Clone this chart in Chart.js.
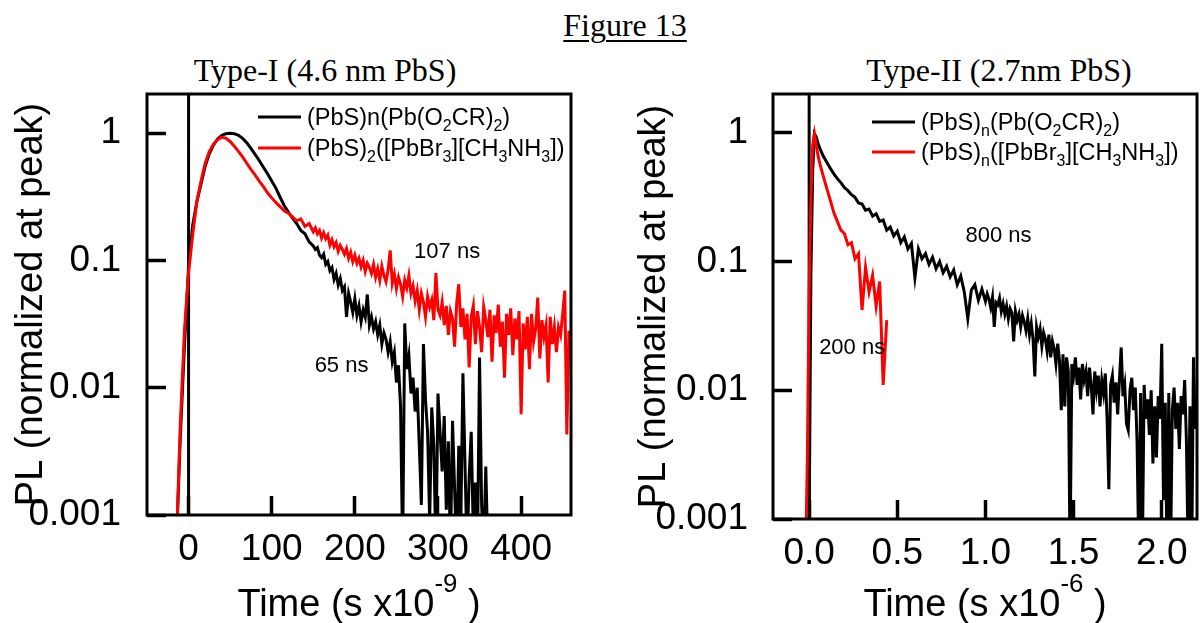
<!DOCTYPE html>
<html>
<head>
<meta charset="utf-8">
<script src="https://cdn.jsdelivr.net/npm/chart.js@4.4.0/dist/chart.umd.min.js"></script>
<style>
html,body{margin:0;padding:0;background:#fff;width:1201px;height:623px;overflow:hidden;position:relative}
.t{position:absolute;font-family:"Liberation Serif","Times New Roman",serif;font-size:32px;color:#000;white-space:nowrap;line-height:1;transform:translateX(-50%)}
#c1{position:absolute;left:0;top:0}
#c2{position:absolute;left:600px;top:0}
</style>
</head>
<body>
<div class="t" style="left:625px;top:9px;text-decoration:underline;text-decoration-thickness:2px;text-underline-offset:4px">Figure 13</div>
<div class="t" style="left:325px;top:54px">Type-I (4.6 nm PbS)</div>
<div class="t" style="left:999px;top:54px">Type-II (2.7nm PbS)</div>
<canvas id="c1" width="600" height="623"></canvas>
<canvas id="c2" width="601" height="623"></canvas>
<script>
// ---------- data: left panel (Type-I), time in ns ----------
const timeLeft = [-15,-10,-5,0,5,10,15,20,25,30,35,40,45,50,55,60,65,70,75,80,85,90,95,100,
  105,110,115,120,125,130,135,140,145,
  150,152.5,155,157.5,160,162.5,165,167.5,
  170,172.5,175,177.5,180,182.5,185,187.5,
  190,192.5,195,197.5,200,202.5,205,207.5,
  210,212.5,215,217.5,220,222.5,225,227.5,
  230,232.5,235,237.5,240,242.5,245,247.5,
  250,252.5,255,257.5,260,262.5,265,267.5,
  270,272.5,275,277.5,280,282.5,285,287.5,
  290,292.5,295,297.5,300,302.5,305,307.5,
  310,312.5,315,317.5,320,322.5,325,327.5,
  330,332.5,335,337.5,340,342.5,345,347.5,
  350,352.5,355,357.5,360,362.5,365,367.5,
  370,372.5,375,377.5,380,382.5,385,387.5,
  390,392.5,395,397.5,400,402.5,405,407.5,
  410,412.5,415,417.5,420,422.5,425,427.5,
  430,432.5,435,437.5,440,442.5,445,447.5,
  450,452.5,455,457.5,460];
const blackLeft = [0.0005,0.004,0.021,0.09,0.19,0.29,0.40,0.55,0.69,0.81,0.90,0.96,0.99,1.0,0.99,0.96,0.91,0.84,0.76,0.68,0.61,0.54,0.48,0.42,
  0.37,0.315,0.27,0.24,0.215,0.195,0.172,0.162,0.14,
  0.13,0.122,0.126,0.11,0.105,0.112,0.093,0.098,
  0.083,0.088,0.071,0.079,0.064,0.072,0.058,0.062,
  0.036,0.055,0.047,0.039,0.05,0.037,0.044,0.033,
  0.041,0.036,0.054,0.031,0.036,0.029,0.033,0.026,
  0.031,0.022,0.027,0.024,0.019,0.023,0.016,0.019,
  0.011,0.015,0.007,0.0005,0.032,0.014,0.018,0.009,
  0.012,0.0065,0.01,0.0035,0.0012,0.022,0.008,0.0045,
  0.0009,0.007,0.0035,0.0005,0.009,0.0045,0.0022,0.006,
  0.0011,0.0038,0.0005,0.0055,0.0016,0.0005,0.0035,0.0009,
  0.013,0.0025,0.0005,0.002,0.0045,0.0007,0.0018,0.0005,
  0.0173,0.0012,0.0005,0.0024,0.0005];
const redLeft = [0.0005,0.005,0.028,0.08,0.16,0.29,0.42,0.58,0.72,0.82,0.89,0.93,0.91,0.86,0.79,0.72,0.65,0.58,0.52,0.47,0.42,0.38,0.34,0.31,
  0.285,0.265,0.245,0.235,0.22,0.205,0.212,0.185,0.195,
  0.168,0.18,0.162,0.172,0.15,0.165,0.148,0.158,
  0.132,0.145,0.128,0.138,0.118,0.131,0.122,0.112,
  0.124,0.104,0.116,0.098,0.11,0.095,0.104,0.089,
  0.1,0.082,0.095,0.088,0.079,0.093,0.074,0.086,
  0.07,0.09,0.076,0.068,0.084,0.12,0.066,0.078,
  0.06,0.074,0.065,0.052,0.07,0.061,0.076,0.055,
  0.063,0.048,0.058,0.041,0.055,0.047,0.036,0.052,
  0.043,0.049,0.034,0.0795,0.041,0.037,0.047,0.031,
  0.044,0.026,0.04,0.035,0.021,0.046,0.065,0.03,
  0.042,0.024,0.038,0.0144,0.036,0.044,0.022,0.04,
  0.03,0.019,0.043,0.034,0.025,0.041,0.016,0.037,
  0.027,0.045,0.021,0.033,0.012,0.038,0.026,0.042,
  0.018,0.035,0.024,0.04,0.0062,0.032,0.02,0.036,
  0.014,0.038,0.023,0.029,0.051,0.017,0.034,0.025,
  0.031,0.011,0.036,0.022,0.03,0.019,0.0299,0.026,
  0.038,0.058,0.0043,0.028,0.02];

// ---------- data: right panel (Type-II), time in us ----------
const timeRight = [-0.02,-0.01,0,0.01,0.02,0.03,0.04,0.05,
  0.06,0.08,0.10,0.12,0.14,0.16,0.18,0.20,0.22,0.24,0.26,0.28,0.30,0.32,0.34,0.36,0.38,0.40,0.42,0.44,
  0.46,0.48,0.50,0.52,0.54,0.56,0.58,0.60,0.62,0.64,0.66,0.68,0.70,0.72,0.74,0.76,0.78,0.80,0.82,0.84,
  0.86,0.88,0.90,0.92,0.94,0.96,0.98,
  1.00,1.01,1.02,1.03,1.04,1.05,1.06,1.07,1.08,1.09,
  1.10,1.11,1.12,1.13,1.14,1.15,1.16,1.17,1.18,1.19,
  1.20,1.21,1.22,1.23,1.24,1.25,1.26,1.27,1.28,1.29,
  1.30,1.31,1.32,1.33,1.34,1.35,1.36,1.37,1.38,1.39,
  1.40,1.41,1.42,1.43,1.44,1.45,1.46,1.47,1.48,1.49,
  1.50,1.51,1.52,1.53,1.54,1.55,1.56,1.57,1.58,1.59,
  1.60,1.61,1.62,1.63,1.64,1.65,1.66,1.67,1.68,1.69,
  1.70,1.71,1.72,1.73,1.74,1.75,1.76,1.77,1.78,1.79,
  1.80,1.81,1.82,1.83,1.84,1.85,1.86,1.87,1.88,1.89,
  1.90,1.91,1.92,1.93,1.94,1.95,1.96,1.97,1.98,1.99,
  2.00,2.01,2.02,2.03,2.04,2.05,2.06,2.07,2.08,2.09,
  2.10,2.11,2.12,2.13,2.14,2.15,2.16,2.17,2.18,2.19,
  2.20];
const blackRight = [0.0005,0.0005,0.0008,0.08,0.5,0.98,0.93,0.83,
  0.76,0.66,0.59,0.53,0.48,0.44,0.41,0.375,0.355,0.33,0.315,0.285,0.28,0.25,0.255,0.225,0.235,0.205,0.21,0.175,
  0.185,0.158,0.172,0.14,0.155,0.125,0.138,0.075,0.125,0.105,0.115,0.095,0.108,0.088,0.1,0.082,0.092,0.076,0.086,0.066,
  0.077,0.058,0.036,0.06,0.066,0.05,0.061,
  0.049,0.056,0.051,0.044,0.053,0.031,0.048,0.046,0.052,0.041,
  0.047,0.039,0.045,0.036,0.043,0.04,0.024,0.041,0.035,0.039,
  0.031,0.038,0.034,0.029,0.036,0.027,0.033,0.025,0.0128,0.031,
  0.026,0.03,0.022,0.028,0.025,0.02,0.027,0.018,0.024,0.021,
  0.016,0.023,0.017,0.007,0.019,0.0075,0.018,0.014,0.0005,0.016,
  0.013,0.018,0.011,0.015,0.0085,0.016,0.012,0.014,0.009,0.015,
  0.011,0.0065,0.014,0.01,0.013,0.0075,0.012,0.0095,0.0135,0.006,
  0.0017,0.011,0.013,0.008,0.0115,0.0065,0.012,0.0215,0.009,0.011,
  0.0055,0.0049,0.01,0.0125,0.007,0.0105,0.004,0.0005,0.0095,0.0005,
  0.011,0.006,0.0085,0.0045,0.01,0.0027,0.0075,0.003,0.009,0.006,
  0.023,0.0014,0.008,0.0005,0.0095,0.0005,0.007,0.0105,0.005,0.008,
  0.0035,0.009,0.0065,0.012,0.004,0.0005,0.0075,0.0005,0.018,0.005,
  0.0085];
const redRight = [0.0005,0.003,0.06,0.32,0.8,0.98,0.8,0.67,
  0.58,0.46,0.37,0.30,0.24,0.205,0.175,0.165,0.135,0.14,0.105,0.115,0.042,0.09,0.058,0.078,0.045,0.07,0.011,0.035];

// ---------- axes ----------
const xTicksLeft = [0,100,200,300,400];
const xTickLabelsLeft = ['0','100','200','300','400'];
const xTicksRight = [0,0.5,1,1.5,2];
const xTickLabelsRight = ['0.0','0.5','1.0','1.5','2.0'];
const yTicks = [0.001,0.01,0.1,1];
const yTickLabels = ['0.001','0.01','0.1','1'];

// ---------- labels ----------
const legendLeft = ['(PbS)n(Pb(O₂CR)₂)','(PbS)₂([PbBr₃][CH₃NH₃])'];
const legendRight = ['(PbS)ₙ(Pb(O₂CR)₂)','(PbS)ₙ([PbBr₃][CH₃NH₃])'];
const notesLeft = [{text:'107 ns', x:311, y:0.1156},{text:'65 ns', x:184, y:0.0149}];
const notesRight = [{text:'800 ns', x:1.074, y:0.158},{text:'200 ns', x:0.244, y:0.0213}];
const yTitle = 'PL (normalized at peak)';
const xTitleLeft = 'Time (s x10⁻⁹ )';
const xTitleRight = 'Time (s x10⁻⁶ )';

const SANS = "'Liberation Sans', Arial, Helvetica, sans-serif";
Chart.defaults.font.family = SANS;
Chart.defaults.color = '#000';

const SUB = {'₀':'0','₁':'1','₂':'2','₃':'3','₄':'4','₅':'5','₆':'6','₇':'7','₈':'8','₉':'9','ₙ':'n'};
const SUP = {'⁰':'0','¹':'1','²':'2','³':'3','⁴':'4','⁵':'5','⁶':'6','⁷':'7','⁸':'8','⁹':'9','⁻':'-'};
function parseRich(str){
  const segs = [];
  for (const ch of str){
    let k = 0, c = ch;
    if (SUB[ch]) { k = -1; c = SUB[ch]; } else if (SUP[ch]) { k = 1; c = SUP[ch]; }
    const last = segs[segs.length-1];
    if (last && last.k === k) last.t += c; else segs.push({t:c, k:k});
  }
  return segs;
}
function drawRich(ctx, str, x, y, size, align){
  const segs = parseRich(str);
  const fontFor = k => (k ? size*0.68 : size) + 'px ' + SANS;
  let w = 0;
  for (const s of segs){ ctx.font = fontFor(s.k); s.w = ctx.measureText(s.t).width; w += s.w; }
  let cx = align === 'center' ? x - w/2 : x;
  ctx.textBaseline = 'alphabetic';
  ctx.textAlign = 'left';
  for (const s of segs){
    ctx.font = fontFor(s.k);
    const dy = s.k === -1 ? size*0.22 : (s.k === 1 ? -size*0.62 : 0);
    ctx.fillText(s.t, cx, y + dy);
    cx += s.w;
  }
}

const framePlugin = {
  id: 'pfFrame',
  beforeDatasetsDraw(chart){
    const ctx = chart.ctx, a = chart.chartArea, xs = chart.scales.x;
    const px = xs.getPixelForValue(0);
    ctx.save();
    ctx.fillStyle = '#000';
    ctx.fillRect(px - 1.5, a.top, 3, a.bottom - a.top);
    ctx.restore();
  },
  afterDatasetsDraw(chart, args, opts){
    const ctx = chart.ctx, a = chart.chartArea, xs = chart.scales.x, ys = chart.scales.y;
    ctx.save();
    // frame
    ctx.strokeStyle = '#000000'; ctx.lineWidth = 3;
    ctx.strokeRect(a.left, a.top, a.right - a.left, a.bottom - a.top);
    // legend
    chart.data.datasets.forEach((ds, i) => {
      const ly = a.top + opts.legendY + i*opts.legendGap;
      const lx = a.left + opts.legendX;
      ctx.strokeStyle = ds.borderColor; ctx.lineWidth = 3;
      ctx.beginPath(); ctx.moveTo(lx, ly); ctx.lineTo(lx + 43, ly); ctx.stroke();
      ctx.fillStyle = '#000';
      drawRich(ctx, ds.label, lx + 49, ly + 0.36*23.5, 23.5, 'left');
    });
    // annotations
    ctx.fillStyle = '#000';
    ctx.font = '22px ' + SANS;
    ctx.textAlign = 'center'; ctx.textBaseline = 'middle';
    opts.notes.forEach(n => ctx.fillText(n.text, xs.getPixelForValue(n.x), ys.getPixelForValue(n.y)));
    // x axis title
    drawRich(ctx, opts.xTitle, (a.left + a.right)/2, chart.height - 7, 38, 'center');
    ctx.restore();
  }
};

// inward tick marks drawn by the axes themselves (negative tick length)
const gridInward = {display:true, drawOnChartArea:false, drawTicks:true, tickLength:-19, tickWidth:3.5, tickColor:'#000000', color:'#000000', lineWidth:3};

function makeChart(id, cfg){
  return new Chart(document.getElementById(id), {
    type: 'line',
    data: {
      datasets: [
        {label: cfg.legend[0], data: cfg.black.map((v,i)=>({x:cfg.time[i], y:v})), borderColor:'#000000', borderWidth:3, pointRadius:0, tension:0, order:1},
        {label: cfg.legend[1], data: cfg.red.map((v,i)=>({x:cfg.time[i], y:v})), borderColor:'#ff0000', borderWidth:3, pointRadius:0, tension:0, order:0}
      ]
    },
    options: {
      responsive: false,
      animation: false,
      layout: {padding: {left:0, right:cfg.padRight, top:94, bottom:0}},
      plugins: {
        legend: {display:false},
        tooltip: {enabled:false},
        pfFrame: {legendX:cfg.legendX, legendY:cfg.legendY, legendGap:cfg.legendGap, notes:cfg.notes, xTitle:cfg.xTitle}
      },
      scales: {
        x: {
          type: 'linear', min: cfg.xMin, max: cfg.xMax,
          grid: gridInward,
          border: {display:false},
          afterBuildTicks: s => { s.ticks = cfg.xTicks.map(v => ({value:v})); },
          afterFit: s => { s.height = cfg.xHeight; s.paddingLeft = 0; s.paddingRight = 0; },
          ticks: {autoSkip:false, maxRotation:0, padding:13 + 19, font:{size:37}, color:'#000',
                  callback: (v, i) => cfg.xLabels[i]}
        },
        y: {
          type: 'logarithmic', min: 0.001, max: cfg.yMax,
          grid: gridInward,
          border: {display:false},
          afterBuildTicks: s => { s.ticks = yTicks.map(v => ({value:v})); },
          afterFit: s => { s.width = cfg.yWidth; s.paddingTop = 0; s.paddingBottom = 0; },
          ticks: {autoSkip:false, padding:cfg.yPad + 19, font:{size:37}, color:'#000',
                  callback: (v, i) => yTickLabels[i]},
          title: {display:true, text:yTitle, color:'#000', font:{size:38, family:SANS}, padding:{top:cfg.yTitlePad, bottom:0}}
        }
      }
    },
    plugins: [framePlugin]
  });
}

makeChart('c1', {
  time: timeLeft, black: blackLeft, red: redLeft, legend: legendLeft, notes: notesLeft, xTitle: xTitleLeft,
  xMin: -50, xMax: 460, xTicks: xTicksLeft, xLabels: xTickLabelsLeft, yMax: 2.03,
  padRight: 29, xHeight: 108, yWidth: 147, yPad: 26, yTitlePad: 9,
  legendX: 111, legendY: 23, legendGap: 31
});
makeChart('c2', {
  time: timeRight, black: blackRight, red: redRight, legend: legendRight, notes: notesRight, xTitle: xTitleRight,
  xMin: -0.205, xMax: 2.2, xTicks: xTicksRight, xLabels: xTickLabelsRight, yMax: 2.0,
  padRight: 4, xHeight: 104, yWidth: 173, yPad: 25, yTitlePad: 32,
  legendX: 99, legendY: 28, legendGap: 30
});
</script>
</body>
</html>
